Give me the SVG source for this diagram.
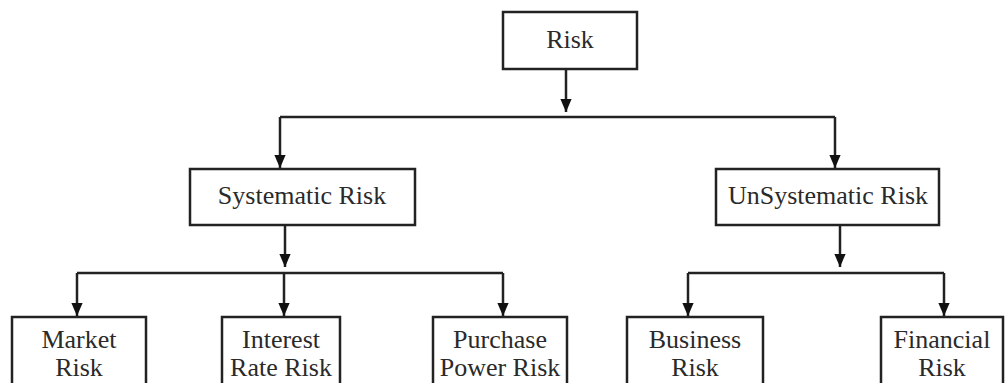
<svg xmlns="http://www.w3.org/2000/svg" width="1005" height="383" viewBox="0 0 1005 383">
<style>
.box{fill:#fff;stroke:#222;stroke-width:2.5}
.t{font-family:"Liberation Serif","Times New Roman",serif;font-size:26px;fill:#2a2a2a;text-anchor:middle}
.c{fill:none;stroke:#222;stroke-width:2.5}
</style>
<defs>
<marker id="a" markerWidth="13" markerHeight="15" refX="15" refY="6.5" orient="auto" markerUnits="userSpaceOnUse" viewBox="0 0 15 13">
<path d="M0,0 L15,6.5 L0,13 Z" fill="#111"/>
</marker>
</defs>
<rect width="1005" height="383" fill="#fff"/>
<g id="connectors">
<path class="c" d="M566,69 V112" marker-end="url(#a)"/>
<path class="c" d="M280,117 H835"/>
<path class="c" d="M280,117 V168" marker-end="url(#a)"/>
<path class="c" d="M835,117 V168" marker-end="url(#a)"/>
<path class="c" d="M285,225 V267" marker-end="url(#a)"/>
<path class="c" d="M77,273 H503"/>
<path class="c" d="M77,273 V316" marker-end="url(#a)"/>
<path class="c" d="M284,273 V316" marker-end="url(#a)"/>
<path class="c" d="M503,273 V316" marker-end="url(#a)"/>
<path class="c" d="M840,225 V267" marker-end="url(#a)"/>
<path class="c" d="M688,273 H944"/>
<path class="c" d="M688,273 V316" marker-end="url(#a)"/>
<path class="c" d="M944,273 V316" marker-end="url(#a)"/>
</g>
<g id="risk"><rect class="box" x="503" y="12" width="134" height="57"/><text class="t" x="570" y="48">Risk</text></g>
<g id="systematic"><rect class="box" x="190" y="169" width="225" height="56"/><text class="t" x="302" y="204">Systematic Risk</text></g>
<g id="unsystematic"><rect class="box" x="716" y="169" width="223" height="56"/><text class="t" x="828" y="204">UnSystematic Risk</text></g>
<g id="market"><rect class="box" x="12" y="317" width="134" height="80"/><text class="t" x="79" y="348">Market</text><text class="t" x="79" y="376">Risk</text></g>
<g id="interest"><rect class="box" x="222" y="317" width="118" height="80"/><text class="t" x="281" y="348">Interest</text><text class="t" x="281" y="376">Rate Risk</text></g>
<g id="purchase"><rect class="box" x="433" y="317" width="134" height="80"/><text class="t" x="500" y="348">Purchase</text><text class="t" x="500" y="376">Power Risk</text></g>
<g id="business"><rect class="box" x="627" y="317" width="136" height="80"/><text class="t" x="695" y="348">Business</text><text class="t" x="695" y="376">Risk</text></g>
<g id="financial"><rect class="box" x="881" y="317" width="122" height="80"/><text class="t" x="942" y="348">Financial</text><text class="t" x="942" y="376">Risk</text></g>
</svg>
